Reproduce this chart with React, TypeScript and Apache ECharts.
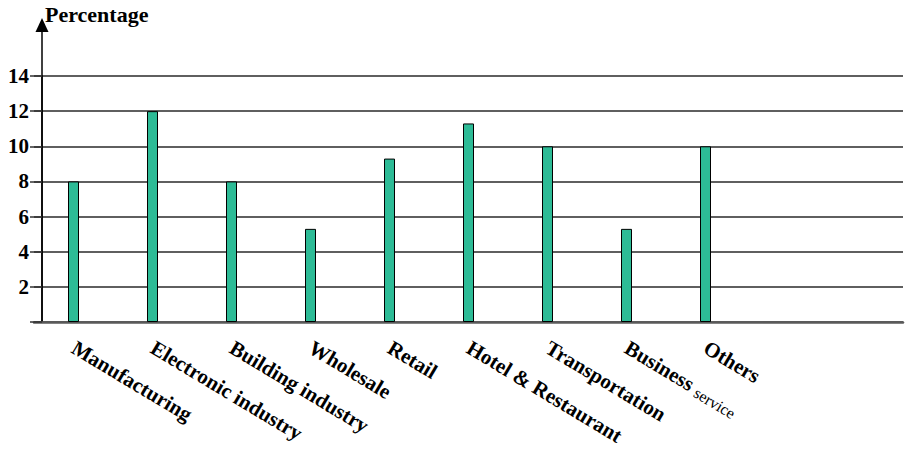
import React, { useEffect, useRef } from "react";
import * as echarts from "echarts";

const categories = [
  "Manufacturing",
  "Electronic industry",
  "Building industry",
  "Wholesale",
  "Retail",
  "Hotel & Restaurant",
  "Transportation",
  "Business service",
  "Others",
];
const values = [8, 12, 8, 5.3, 9.3, 11.3, 10, 5.3, 10];
const emptySlots = ["", ""];
const yMax = 14;
const yStep = 2;

const FONT = "Liberation Serif";

export default function App() {
  const ref = useRef<HTMLDivElement>(null);
  useEffect(() => {
    if (!ref.current) return;
    const chart = echarts.init(ref.current, null, { renderer: "svg" });
    chart.setOption({
      animation: false,
      backgroundColor: "#ffffff",
      grid: [
        { left: 34, right: 5, top: 76, bottom: 137 },
        { left: 34, right: 5, top: 25, bottom: 137 },
      ],
      graphic: [
        {
          type: "text",
          left: 45,
          top: 3,
          style: {
            text: "Percentage",
            fontFamily: FONT,
            fontWeight: "bold",
            fontSize: 22,
            fill: "#000",
          },
        },
      ],
      xAxis: [
        {
          type: "category",
          gridIndex: 0,
          data: [...categories, ...emptySlots],
          axisLine: { show: true, lineStyle: { color: "#5a5a5a", width: 2.5 } },
          axisTick: { show: false },
          splitLine: { show: false },
          axisLabel: {
            interval: 0,
            rotate: -31,
            margin: 24,
            color: "#000",
            fontFamily: FONT,
            fontWeight: "bold",
            fontSize: 21,
            formatter: (v: string) => {
              if (v === "Business service") return "{b|Business} {s|service}";
              return v ? "{b|" + v + "}" : "";
            },
            rich: {
              b: { fontFamily: FONT, fontWeight: "bold", fontSize: 21, color: "#000" },
              s: { fontFamily: FONT, fontWeight: "normal", fontSize: 16, color: "#000", padding: [7, 0, 0, 0] },
            },
          },
        },
        { type: "category", gridIndex: 1, show: false, data: [...categories, ...emptySlots] },
      ],
      yAxis: [
        {
          type: "value",
          gridIndex: 0,
          min: 0,
          max: yMax,
          interval: yStep,
          offset: -8,
          axisLine: { show: true, lineStyle: { color: "#000", width: 1.5 } },
          axisTick: { show: true, length: 12, lineStyle: { color: "#333", width: 1.5 } },
          axisLabel: {
            margin: 13,
            color: "#000",
            fontFamily: FONT,
            fontWeight: "bold",
            fontSize: 21,
            formatter: (v: number) => (v === 0 ? "" : String(v)),
          },
          splitLine: { show: true, lineStyle: { color: "#2a2a2a", width: 1.5 } },
        },
        {
          type: "value",
          gridIndex: 1,
          min: 0,
          max: 1,
          offset: -8,
          axisLine: {
            show: true,
            symbol: ["none", "triangle"],
            symbolSize: [13, 14],
            lineStyle: { color: "#000", width: 1.5 },
          },
          axisTick: { show: false },
          axisLabel: { show: false },
          splitLine: { show: false },
        },
      ],
      series: [
        {
          type: "bar",
          xAxisIndex: 0,
          yAxisIndex: 0,
          data: values,
          barWidth: 11,
          itemStyle: { color: "#2dbb96", borderColor: "#000", borderWidth: 1 },
        },
      ],
    });
    return () => chart.dispose();
  }, []);
  return <div ref={ref} style={{ position: "fixed", left: 0, top: 0, width: 908, height: 459 }} />;
}
